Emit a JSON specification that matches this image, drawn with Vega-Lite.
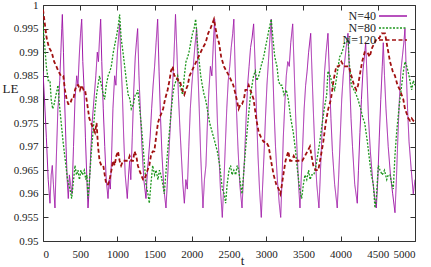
{
"$schema": "https://vega.github.io/schema/vega-lite/v6.json",
"width": 372, "height": 236,
"autosize": {"type": "none"},
"padding": {"left": 43, "top": 5, "right": 16, "bottom": 26},
"config": {"view": {"stroke": "#333", "strokeWidth": 1}, "font": "Liberation Serif",
 "axis": {"grid": false, "domain": false, "tickColor": "#333", "tickSize": -5, "labelFont": "Liberation Serif", "labelFontSize": 11, "labelColor": "#222", "titleFont": "Liberation Serif", "titleFontSize": 13, "titleFontWeight": "normal", "titleColor": "#222"},
 "legend": {"orient": "none", "legendX": 344, "legendY": 5, "title": null, "symbolType": "M-3.5,0H3.5", "symbolSize": 64, "symbolStrokeWidth": 1.5, "symbolFillColor": "transparent", "symbolOffset": 0, "labelFont": "Liberation Serif", "labelFontSize": 12, "labelColor": "#222", "labelAlign": "right", "labelOffset": -23, "labelBaseline": "middle", "rowPadding": 0, "padding": 0}},
"datasets": {
"m": [
{"s":"N=40","t":0,"v":0.986},{"s":"N=40","t":20,"v":0.980},{"s":"N=40","t":45,"v":0.972},{"s":"N=40","t":70,"v":0.963},{"s":"N=40","t":94,"v":0.958},{"s":"N=40","t":110,"v":0.964},{"s":"N=40","t":125,"v":0.966},{"s":"N=40","t":140,"v":0.962},{"s":"N=40","t":161,"v":0.957},{"s":"N=40","t":180,"v":0.968},{"s":"N=40","t":200,"v":0.978},{"s":"N=40","t":215,"v":0.981},{"s":"N=40","t":225,"v":0.984},{"s":"N=40","t":240,"v":0.990},{"s":"N=40","t":252,"v":0.995},{"s":"N=40","t":260,"v":0.998},{"s":"N=40","t":275,"v":0.990},{"s":"N=40","t":290,"v":0.980},{"s":"N=40","t":310,"v":0.970},{"s":"N=40","t":325,"v":0.963},{"s":"N=40","t":340,"v":0.959},{"s":"N=40","t":355,"v":0.964},{"s":"N=40","t":370,"v":0.962},{"s":"N=40","t":390,"v":0.960},{"s":"N=40","t":410,"v":0.970},{"s":"N=40","t":430,"v":0.980},{"s":"N=40","t":453,"v":0.985},{"s":"N=40","t":470,"v":0.983},{"s":"N=40","t":490,"v":0.990},{"s":"N=40","t":505,"v":0.994},{"s":"N=40","t":520,"v":0.997},{"s":"N=40","t":535,"v":0.988},{"s":"N=40","t":550,"v":0.983},{"s":"N=40","t":570,"v":0.972},{"s":"N=40","t":590,"v":0.963},{"s":"N=40","t":605,"v":0.957},{"s":"N=40","t":620,"v":0.961},{"s":"N=40","t":640,"v":0.968},{"s":"N=40","t":660,"v":0.975},{"s":"N=40","t":695,"v":0.982},{"s":"N=40","t":710,"v":0.985},{"s":"N=40","t":730,"v":0.990},{"s":"N=40","t":745,"v":0.988},{"s":"N=40","t":760,"v":0.993},{"s":"N=40","t":775,"v":0.997},{"s":"N=40","t":790,"v":0.988},{"s":"N=40","t":810,"v":0.978},{"s":"N=40","t":830,"v":0.970},{"s":"N=40","t":850,"v":0.963},{"s":"N=40","t":874,"v":0.959},{"s":"N=40","t":890,"v":0.963},{"s":"N=40","t":905,"v":0.961},{"s":"N=40","t":920,"v":0.967},{"s":"N=40","t":940,"v":0.978},{"s":"N=40","t":963,"v":0.985},{"s":"N=40","t":980,"v":0.983},{"s":"N=40","t":1000,"v":0.990},{"s":"N=40","t":1015,"v":0.993},{"s":"N=40","t":1030,"v":0.996},{"s":"N=40","t":1045,"v":0.989},{"s":"N=40","t":1065,"v":0.982},{"s":"N=40","t":1085,"v":0.972},{"s":"N=40","t":1105,"v":0.964},{"s":"N=40","t":1133,"v":0.959},{"s":"N=40","t":1150,"v":0.964},{"s":"N=40","t":1165,"v":0.967},{"s":"N=40","t":1180,"v":0.963},{"s":"N=40","t":1200,"v":0.972},{"s":"N=40","t":1220,"v":0.982},{"s":"N=40","t":1240,"v":0.989},{"s":"N=40","t":1255,"v":0.992},{"s":"N=40","t":1272,"v":0.995},{"s":"N=40","t":1290,"v":0.985},{"s":"N=40","t":1310,"v":0.977},{"s":"N=40","t":1330,"v":0.970},{"s":"N=40","t":1355,"v":0.963},{"s":"N=40","t":1384,"v":0.959},{"s":"N=40","t":1400,"v":0.964},{"s":"N=40","t":1420,"v":0.968},{"s":"N=40","t":1440,"v":0.972},{"s":"N=40","t":1460,"v":0.978},{"s":"N=40","t":1480,"v":0.983},{"s":"N=40","t":1500,"v":0.987},{"s":"N=40","t":1520,"v":0.992},{"s":"N=40","t":1541,"v":0.997},{"s":"N=40","t":1560,"v":0.986},{"s":"N=40","t":1580,"v":0.976},{"s":"N=40","t":1600,"v":0.968},{"s":"N=40","t":1625,"v":0.961},{"s":"N=40","t":1653,"v":0.957},{"s":"N=40","t":1670,"v":0.962},{"s":"N=40","t":1690,"v":0.968},{"s":"N=40","t":1710,"v":0.974},{"s":"N=40","t":1730,"v":0.980},{"s":"N=40","t":1745,"v":0.984},{"s":"N=40","t":1760,"v":0.989},{"s":"N=40","t":1781,"v":0.998},{"s":"N=40","t":1800,"v":0.990},{"s":"N=40","t":1820,"v":0.981},{"s":"N=40","t":1840,"v":0.974},{"s":"N=40","t":1860,"v":0.968},{"s":"N=40","t":1880,"v":0.962},{"s":"N=40","t":1900,"v":0.958},{"s":"N=40","t":1920,"v":0.963},{"s":"N=40","t":1940,"v":0.961},{"s":"N=40","t":1960,"v":0.970},{"s":"N=40","t":1980,"v":0.978},{"s":"N=40","t":2000,"v":0.983},{"s":"N=40","t":2020,"v":0.987},{"s":"N=40","t":2040,"v":0.991},{"s":"N=40","t":2065,"v":0.995},{"s":"N=40","t":2080,"v":0.987},{"s":"N=40","t":2100,"v":0.978},{"s":"N=40","t":2120,"v":0.968},{"s":"N=40","t":2150,"v":0.957},{"s":"N=40","t":2170,"v":0.963},{"s":"N=40","t":2190,"v":0.966},{"s":"N=40","t":2210,"v":0.975},{"s":"N=40","t":2230,"v":0.982},{"s":"N=40","t":2250,"v":0.987},{"s":"N=40","t":2270,"v":0.985},{"s":"N=40","t":2290,"v":0.992},{"s":"N=40","t":2307,"v":0.997},{"s":"N=40","t":2325,"v":0.985},{"s":"N=40","t":2345,"v":0.975},{"s":"N=40","t":2365,"v":0.968},{"s":"N=40","t":2385,"v":0.961},{"s":"N=40","t":2410,"v":0.955},{"s":"N=40","t":2430,"v":0.962},{"s":"N=40","t":2450,"v":0.970},{"s":"N=40","t":2470,"v":0.978},{"s":"N=40","t":2490,"v":0.984},{"s":"N=40","t":2510,"v":0.987},{"s":"N=40","t":2530,"v":0.991},{"s":"N=40","t":2550,"v":0.994},{"s":"N=40","t":2565,"v":0.997},{"s":"N=40","t":2580,"v":0.988},{"s":"N=40","t":2600,"v":0.978},{"s":"N=40","t":2620,"v":0.970},{"s":"N=40","t":2645,"v":0.962},{"s":"N=40","t":2675,"v":0.957},{"s":"N=40","t":2690,"v":0.962},{"s":"N=40","t":2710,"v":0.968},{"s":"N=40","t":2730,"v":0.976},{"s":"N=40","t":2750,"v":0.983},{"s":"N=40","t":2770,"v":0.987},{"s":"N=40","t":2790,"v":0.991},{"s":"N=40","t":2810,"v":0.993},{"s":"N=40","t":2831,"v":0.996},{"s":"N=40","t":2850,"v":0.988},{"s":"N=40","t":2870,"v":0.977},{"s":"N=40","t":2890,"v":0.968},{"s":"N=40","t":2910,"v":0.961},{"s":"N=40","t":2934,"v":0.955},{"s":"N=40","t":2950,"v":0.961},{"s":"N=40","t":2970,"v":0.968},{"s":"N=40","t":2990,"v":0.976},{"s":"N=40","t":3010,"v":0.983},{"s":"N=40","t":3030,"v":0.988},{"s":"N=40","t":3050,"v":0.993},{"s":"N=40","t":3068,"v":0.997},{"s":"N=40","t":3085,"v":0.988},{"s":"N=40","t":3105,"v":0.978},{"s":"N=40","t":3125,"v":0.970},{"s":"N=40","t":3150,"v":0.963},{"s":"N=40","t":3175,"v":0.958},{"s":"N=40","t":3195,"v":0.955},{"s":"N=40","t":3210,"v":0.962},{"s":"N=40","t":3230,"v":0.972},{"s":"N=40","t":3250,"v":0.979},{"s":"N=40","t":3270,"v":0.985},{"s":"N=40","t":3290,"v":0.988},{"s":"N=40","t":3310,"v":0.987},{"s":"N=40","t":3330,"v":0.992},{"s":"N=40","t":3356,"v":0.996},{"s":"N=40","t":3375,"v":0.987},{"s":"N=40","t":3395,"v":0.977},{"s":"N=40","t":3415,"v":0.969},{"s":"N=40","t":3435,"v":0.962},{"s":"N=40","t":3454,"v":0.957},{"s":"N=40","t":3470,"v":0.963},{"s":"N=40","t":3490,"v":0.970},{"s":"N=40","t":3510,"v":0.978},{"s":"N=40","t":3530,"v":0.983},{"s":"N=40","t":3550,"v":0.986},{"s":"N=40","t":3570,"v":0.990},{"s":"N=40","t":3598,"v":0.994},{"s":"N=40","t":3615,"v":0.986},{"s":"N=40","t":3635,"v":0.977},{"s":"N=40","t":3655,"v":0.969},{"s":"N=40","t":3680,"v":0.962},{"s":"N=40","t":3709,"v":0.957},{"s":"N=40","t":3725,"v":0.963},{"s":"N=40","t":3745,"v":0.971},{"s":"N=40","t":3765,"v":0.979},{"s":"N=40","t":3785,"v":0.986},{"s":"N=40","t":3805,"v":0.990},{"s":"N=40","t":3830,"v":0.994},{"s":"N=40","t":3850,"v":0.985},{"s":"N=40","t":3870,"v":0.976},{"s":"N=40","t":3890,"v":0.969},{"s":"N=40","t":3920,"v":0.962},{"s":"N=40","t":3955,"v":0.957},{"s":"N=40","t":3975,"v":0.964},{"s":"N=40","t":3995,"v":0.972},{"s":"N=40","t":4015,"v":0.980},{"s":"N=40","t":4035,"v":0.985},{"s":"N=40","t":4055,"v":0.988},{"s":"N=40","t":4075,"v":0.991},{"s":"N=40","t":4099,"v":0.994},{"s":"N=40","t":4120,"v":0.985},{"s":"N=40","t":4140,"v":0.976},{"s":"N=40","t":4160,"v":0.970},{"s":"N=40","t":4190,"v":0.962},{"s":"N=40","t":4224,"v":0.958},{"s":"N=40","t":4240,"v":0.965},{"s":"N=40","t":4260,"v":0.973},{"s":"N=40","t":4280,"v":0.980},{"s":"N=40","t":4300,"v":0.986},{"s":"N=40","t":4320,"v":0.989},{"s":"N=40","t":4337,"v":0.992},{"s":"N=40","t":4355,"v":0.985},{"s":"N=40","t":4375,"v":0.976},{"s":"N=40","t":4400,"v":0.969},{"s":"N=40","t":4430,"v":0.963},{"s":"N=40","t":4460,"v":0.959},{"s":"N=40","t":4480,"v":0.957},{"s":"N=40","t":4500,"v":0.963},{"s":"N=40","t":4520,"v":0.972},{"s":"N=40","t":4540,"v":0.980},{"s":"N=40","t":4560,"v":0.987},{"s":"N=40","t":4574,"v":0.992},{"s":"N=40","t":4590,"v":0.985},{"s":"N=40","t":4610,"v":0.978},{"s":"N=40","t":4640,"v":0.970},{"s":"N=40","t":4670,"v":0.964},{"s":"N=40","t":4700,"v":0.960},{"s":"N=40","t":4731,"v":0.956},{"s":"N=40","t":4750,"v":0.963},{"s":"N=40","t":4770,"v":0.972},{"s":"N=40","t":4790,"v":0.980},{"s":"N=40","t":4810,"v":0.986},{"s":"N=40","t":4830,"v":0.989},{"s":"N=40","t":4850,"v":0.992},{"s":"N=40","t":4865,"v":0.995},{"s":"N=40","t":4880,"v":0.987},{"s":"N=40","t":4900,"v":0.978},{"s":"N=40","t":4920,"v":0.971},{"s":"N=40","t":4950,"v":0.965},{"s":"N=40","t":4977,"v":0.960},{"s":"N=40","t":5000,"v":0.963}
],
"g": [
{"s":"N=80","t":0,"v":0.996},{"s":"N=80","t":20,"v":0.992},{"s":"N=80","t":45,"v":0.987},{"s":"N=80","t":70,"v":0.984},{"s":"N=80","t":94,"v":0.984},{"s":"N=80","t":110,"v":0.980},{"s":"N=80","t":130,"v":0.978},{"s":"N=80","t":150,"v":0.979},{"s":"N=80","t":175,"v":0.981},{"s":"N=80","t":202,"v":0.983},{"s":"N=80","t":220,"v":0.979},{"s":"N=80","t":245,"v":0.975},{"s":"N=80","t":270,"v":0.971},{"s":"N=80","t":300,"v":0.967},{"s":"N=80","t":330,"v":0.963},{"s":"N=80","t":363,"v":0.961},{"s":"N=80","t":385,"v":0.959},{"s":"N=80","t":405,"v":0.962},{"s":"N=80","t":430,"v":0.966},{"s":"N=80","t":450,"v":0.964},{"s":"N=80","t":470,"v":0.965},{"s":"N=80","t":490,"v":0.963},{"s":"N=80","t":510,"v":0.965},{"s":"N=80","t":530,"v":0.964},{"s":"N=80","t":555,"v":0.965},{"s":"N=80","t":575,"v":0.963},{"s":"N=80","t":590,"v":0.964},{"s":"N=80","t":605,"v":0.959},{"s":"N=80","t":625,"v":0.963},{"s":"N=80","t":650,"v":0.969},{"s":"N=80","t":672,"v":0.973},{"s":"N=80","t":700,"v":0.978},{"s":"N=80","t":720,"v":0.981},{"s":"N=80","t":739,"v":0.983},{"s":"N=80","t":760,"v":0.985},{"s":"N=80","t":785,"v":0.983},{"s":"N=80","t":810,"v":0.981},{"s":"N=80","t":829,"v":0.980},{"s":"N=80","t":850,"v":0.983},{"s":"N=80","t":875,"v":0.985},{"s":"N=80","t":900,"v":0.986},{"s":"N=80","t":918,"v":0.987},{"s":"N=80","t":945,"v":0.990},{"s":"N=80","t":970,"v":0.992},{"s":"N=80","t":995,"v":0.994},{"s":"N=80","t":1015,"v":0.996},{"s":"N=80","t":1030,"v":0.998},{"s":"N=80","t":1050,"v":0.993},{"s":"N=80","t":1075,"v":0.990},{"s":"N=80","t":1098,"v":0.987},{"s":"N=80","t":1120,"v":0.984},{"s":"N=80","t":1145,"v":0.981},{"s":"N=80","t":1170,"v":0.980},{"s":"N=80","t":1187,"v":0.978},{"s":"N=80","t":1215,"v":0.979},{"s":"N=80","t":1240,"v":0.981},{"s":"N=80","t":1254,"v":0.981},{"s":"N=80","t":1275,"v":0.982},{"s":"N=80","t":1300,"v":0.978},{"s":"N=80","t":1330,"v":0.973},{"s":"N=80","t":1360,"v":0.967},{"s":"N=80","t":1385,"v":0.962},{"s":"N=80","t":1410,"v":0.960},{"s":"N=80","t":1429,"v":0.958},{"s":"N=80","t":1450,"v":0.962},{"s":"N=80","t":1474,"v":0.966},{"s":"N=80","t":1500,"v":0.964},{"s":"N=80","t":1520,"v":0.965},{"s":"N=80","t":1545,"v":0.963},{"s":"N=80","t":1565,"v":0.965},{"s":"N=80","t":1586,"v":0.964},{"s":"N=80","t":1610,"v":0.962},{"s":"N=80","t":1630,"v":0.960},{"s":"N=80","t":1650,"v":0.964},{"s":"N=80","t":1675,"v":0.969},{"s":"N=80","t":1698,"v":0.973},{"s":"N=80","t":1720,"v":0.977},{"s":"N=80","t":1745,"v":0.981},{"s":"N=80","t":1765,"v":0.983},{"s":"N=80","t":1790,"v":0.984},{"s":"N=80","t":1810,"v":0.985},{"s":"N=80","t":1840,"v":0.983},{"s":"N=80","t":1877,"v":0.981},{"s":"N=80","t":1900,"v":0.985},{"s":"N=80","t":1922,"v":0.988},{"s":"N=80","t":1945,"v":0.989},{"s":"N=80","t":1962,"v":0.990},{"s":"N=80","t":1985,"v":0.992},{"s":"N=80","t":2010,"v":0.994},{"s":"N=80","t":2030,"v":0.995},{"s":"N=80","t":2052,"v":0.997},{"s":"N=80","t":2075,"v":0.992},{"s":"N=80","t":2100,"v":0.988},{"s":"N=80","t":2120,"v":0.985},{"s":"N=80","t":2141,"v":0.983},{"s":"N=80","t":2165,"v":0.981},{"s":"N=80","t":2185,"v":0.980},{"s":"N=80","t":2208,"v":0.978},{"s":"N=80","t":2240,"v":0.975},{"s":"N=80","t":2275,"v":0.973},{"s":"N=80","t":2310,"v":0.971},{"s":"N=80","t":2343,"v":0.969},{"s":"N=80","t":2375,"v":0.966},{"s":"N=80","t":2410,"v":0.961},{"s":"N=80","t":2435,"v":0.960},{"s":"N=80","t":2455,"v":0.958},{"s":"N=80","t":2475,"v":0.962},{"s":"N=80","t":2500,"v":0.965},{"s":"N=80","t":2522,"v":0.966},{"s":"N=80","t":2540,"v":0.964},{"s":"N=80","t":2565,"v":0.965},{"s":"N=80","t":2590,"v":0.964},{"s":"N=80","t":2610,"v":0.966},{"s":"N=80","t":2630,"v":0.965},{"s":"N=80","t":2655,"v":0.962},{"s":"N=80","t":2675,"v":0.960},{"s":"N=80","t":2700,"v":0.965},{"s":"N=80","t":2720,"v":0.969},{"s":"N=80","t":2742,"v":0.973},{"s":"N=80","t":2765,"v":0.977},{"s":"N=80","t":2790,"v":0.981},{"s":"N=80","t":2809,"v":0.983},{"s":"N=80","t":2830,"v":0.985},{"s":"N=80","t":2854,"v":0.986},{"s":"N=80","t":2875,"v":0.984},{"s":"N=80","t":2900,"v":0.985},{"s":"N=80","t":2930,"v":0.987},{"s":"N=80","t":2966,"v":0.989},{"s":"N=80","t":2990,"v":0.991},{"s":"N=80","t":3015,"v":0.993},{"s":"N=80","t":3040,"v":0.995},{"s":"N=80","t":3068,"v":0.997},{"s":"N=80","t":3090,"v":0.993},{"s":"N=80","t":3115,"v":0.989},{"s":"N=80","t":3145,"v":0.987},{"s":"N=80","t":3165,"v":0.984},{"s":"N=80","t":3185,"v":0.983},{"s":"N=80","t":3210,"v":0.983},{"s":"N=80","t":3240,"v":0.981},{"s":"N=80","t":3270,"v":0.982},{"s":"N=80","t":3297,"v":0.980},{"s":"N=80","t":3330,"v":0.976},{"s":"N=80","t":3364,"v":0.973},{"s":"N=80","t":3395,"v":0.969},{"s":"N=80","t":3420,"v":0.965},{"s":"N=80","t":3450,"v":0.961},{"s":"N=80","t":3477,"v":0.959},{"s":"N=80","t":3500,"v":0.962},{"s":"N=80","t":3521,"v":0.964},{"s":"N=80","t":3545,"v":0.963},{"s":"N=80","t":3570,"v":0.965},{"s":"N=80","t":3590,"v":0.963},{"s":"N=80","t":3611,"v":0.964},{"s":"N=80","t":3640,"v":0.964},{"s":"N=80","t":3670,"v":0.966},{"s":"N=80","t":3700,"v":0.969},{"s":"N=80","t":3720,"v":0.971},{"s":"N=80","t":3745,"v":0.974},{"s":"N=80","t":3780,"v":0.978},{"s":"N=80","t":3813,"v":0.981},{"s":"N=80","t":3830,"v":0.986},{"s":"N=80","t":3860,"v":0.985},{"s":"N=80","t":3890,"v":0.983},{"s":"N=80","t":3920,"v":0.982},{"s":"N=80","t":3950,"v":0.985},{"s":"N=80","t":3987,"v":0.989},{"s":"N=80","t":4020,"v":0.990},{"s":"N=80","t":4055,"v":0.992},{"s":"N=80","t":4080,"v":0.992},{"s":"N=80","t":4100,"v":0.993},{"s":"N=80","t":4115,"v":0.988},{"s":"N=80","t":4144,"v":0.983},{"s":"N=80","t":4180,"v":0.982},{"s":"N=80","t":4210,"v":0.981},{"s":"N=80","t":4234,"v":0.980},{"s":"N=80","t":4270,"v":0.978},{"s":"N=80","t":4300,"v":0.976},{"s":"N=80","t":4324,"v":0.975},{"s":"N=80","t":4360,"v":0.971},{"s":"N=80","t":4390,"v":0.967},{"s":"N=80","t":4413,"v":0.964},{"s":"N=80","t":4440,"v":0.962},{"s":"N=80","t":4462,"v":0.957},{"s":"N=80","t":4480,"v":0.959},{"s":"N=80","t":4507,"v":0.966},{"s":"N=80","t":4530,"v":0.965},{"s":"N=80","t":4560,"v":0.964},{"s":"N=80","t":4590,"v":0.965},{"s":"N=80","t":4620,"v":0.963},{"s":"N=80","t":4640,"v":0.964},{"s":"N=80","t":4664,"v":0.964},{"s":"N=80","t":4690,"v":0.962},{"s":"N=80","t":4708,"v":0.961},{"s":"N=80","t":4730,"v":0.968},{"s":"N=80","t":4753,"v":0.973},{"s":"N=80","t":4790,"v":0.979},{"s":"N=80","t":4821,"v":0.983},{"s":"N=80","t":4845,"v":0.986},{"s":"N=80","t":4865,"v":0.988},{"s":"N=80","t":4890,"v":0.987},{"s":"N=80","t":4920,"v":0.985},{"s":"N=80","t":4955,"v":0.982},{"s":"N=80","t":4977,"v":0.984},{"s":"N=80","t":5000,"v":0.983}
],
"r": [
{"s":"N=120","t":0,"v":0.999},{"s":"N=120","t":25,"v":0.996},{"s":"N=120","t":49,"v":0.993},{"s":"N=120","t":80,"v":0.991},{"s":"N=120","t":117,"v":0.990},{"s":"N=120","t":150,"v":0.988},{"s":"N=120","t":180,"v":0.987},{"s":"N=120","t":206,"v":0.986},{"s":"N=120","t":240,"v":0.985},{"s":"N=120","t":273,"v":0.985},{"s":"N=120","t":295,"v":0.982},{"s":"N=120","t":318,"v":0.980},{"s":"N=120","t":340,"v":0.979},{"s":"N=120","t":363,"v":0.979},{"s":"N=120","t":385,"v":0.980},{"s":"N=120","t":408,"v":0.980},{"s":"N=120","t":430,"v":0.982},{"s":"N=120","t":453,"v":0.983},{"s":"N=120","t":475,"v":0.983},{"s":"N=120","t":497,"v":0.982},{"s":"N=120","t":520,"v":0.983},{"s":"N=120","t":545,"v":0.982},{"s":"N=120","t":565,"v":0.982},{"s":"N=120","t":595,"v":0.979},{"s":"N=120","t":622,"v":0.976},{"s":"N=120","t":645,"v":0.975},{"s":"N=120","t":672,"v":0.974},{"s":"N=120","t":699,"v":0.973},{"s":"N=120","t":720,"v":0.975},{"s":"N=120","t":740,"v":0.970},{"s":"N=120","t":760,"v":0.967},{"s":"N=120","t":784,"v":0.966},{"s":"N=120","t":810,"v":0.966},{"s":"N=120","t":830,"v":0.964},{"s":"N=120","t":850,"v":0.962},{"s":"N=120","t":874,"v":0.962},{"s":"N=120","t":895,"v":0.963},{"s":"N=120","t":920,"v":0.965},{"s":"N=120","t":940,"v":0.967},{"s":"N=120","t":963,"v":0.966},{"s":"N=120","t":985,"v":0.968},{"s":"N=120","t":1008,"v":0.969},{"s":"N=120","t":1030,"v":0.967},{"s":"N=120","t":1050,"v":0.966},{"s":"N=120","t":1075,"v":0.967},{"s":"N=120","t":1098,"v":0.967},{"s":"N=120","t":1120,"v":0.967},{"s":"N=120","t":1145,"v":0.967},{"s":"N=120","t":1165,"v":0.968},{"s":"N=120","t":1187,"v":0.967},{"s":"N=120","t":1210,"v":0.967},{"s":"N=120","t":1230,"v":0.969},{"s":"N=120","t":1254,"v":0.968},{"s":"N=120","t":1275,"v":0.966},{"s":"N=120","t":1295,"v":0.965},{"s":"N=120","t":1320,"v":0.964},{"s":"N=120","t":1345,"v":0.963},{"s":"N=120","t":1362,"v":0.963},{"s":"N=120","t":1385,"v":0.964},{"s":"N=120","t":1405,"v":0.965},{"s":"N=120","t":1429,"v":0.966},{"s":"N=120","t":1450,"v":0.968},{"s":"N=120","t":1475,"v":0.969},{"s":"N=120","t":1496,"v":0.969},{"s":"N=120","t":1520,"v":0.972},{"s":"N=120","t":1545,"v":0.975},{"s":"N=120","t":1563,"v":0.976},{"s":"N=120","t":1590,"v":0.977},{"s":"N=120","t":1615,"v":0.978},{"s":"N=120","t":1640,"v":0.980},{"s":"N=120","t":1675,"v":0.982},{"s":"N=120","t":1700,"v":0.984},{"s":"N=120","t":1720,"v":0.986},{"s":"N=120","t":1743,"v":0.987},{"s":"N=120","t":1765,"v":0.985},{"s":"N=120","t":1788,"v":0.985},{"s":"N=120","t":1815,"v":0.984},{"s":"N=120","t":1840,"v":0.984},{"s":"N=120","t":1870,"v":0.982},{"s":"N=120","t":1899,"v":0.981},{"s":"N=120","t":1920,"v":0.982},{"s":"N=120","t":1945,"v":0.983},{"s":"N=120","t":1970,"v":0.985},{"s":"N=120","t":2000,"v":0.986},{"s":"N=120","t":2029,"v":0.987},{"s":"N=120","t":2060,"v":0.988},{"s":"N=120","t":2090,"v":0.989},{"s":"N=120","t":2120,"v":0.990},{"s":"N=120","t":2150,"v":0.991},{"s":"N=120","t":2186,"v":0.992},{"s":"N=120","t":2220,"v":0.994},{"s":"N=120","t":2250,"v":0.995},{"s":"N=120","t":2275,"v":0.996},{"s":"N=120","t":2298,"v":0.997},{"s":"N=120","t":2320,"v":0.995},{"s":"N=120","t":2345,"v":0.993},{"s":"N=120","t":2365,"v":0.992},{"s":"N=120","t":2395,"v":0.989},{"s":"N=120","t":2432,"v":0.987},{"s":"N=120","t":2465,"v":0.986},{"s":"N=120","t":2500,"v":0.985},{"s":"N=120","t":2530,"v":0.984},{"s":"N=120","t":2558,"v":0.983},{"s":"N=120","t":2590,"v":0.981},{"s":"N=120","t":2630,"v":0.978},{"s":"N=120","t":2655,"v":0.979},{"s":"N=120","t":2675,"v":0.979},{"s":"N=120","t":2700,"v":0.980},{"s":"N=120","t":2720,"v":0.982},{"s":"N=120","t":2742,"v":0.982},{"s":"N=120","t":2765,"v":0.983},{"s":"N=120","t":2786,"v":0.982},{"s":"N=120","t":2810,"v":0.981},{"s":"N=120","t":2831,"v":0.980},{"s":"N=120","t":2865,"v":0.976},{"s":"N=120","t":2899,"v":0.973},{"s":"N=120","t":2930,"v":0.972},{"s":"N=120","t":2966,"v":0.971},{"s":"N=120","t":3000,"v":0.971},{"s":"N=120","t":3033,"v":0.970},{"s":"N=120","t":3065,"v":0.967},{"s":"N=120","t":3100,"v":0.964},{"s":"N=120","t":3135,"v":0.962},{"s":"N=120","t":3168,"v":0.961},{"s":"N=120","t":3190,"v":0.960},{"s":"N=120","t":3212,"v":0.962},{"s":"N=120","t":3230,"v":0.964},{"s":"N=120","t":3260,"v":0.967},{"s":"N=120","t":3297,"v":0.969},{"s":"N=120","t":3320,"v":0.967},{"s":"N=120","t":3342,"v":0.967},{"s":"N=120","t":3370,"v":0.968},{"s":"N=120","t":3400,"v":0.967},{"s":"N=120","t":3430,"v":0.967},{"s":"N=120","t":3454,"v":0.967},{"s":"N=120","t":3485,"v":0.967},{"s":"N=120","t":3520,"v":0.968},{"s":"N=120","t":3555,"v":0.969},{"s":"N=120","t":3588,"v":0.970},{"s":"N=120","t":3610,"v":0.968},{"s":"N=120","t":3633,"v":0.966},{"s":"N=120","t":3665,"v":0.965},{"s":"N=120","t":3700,"v":0.965},{"s":"N=120","t":3735,"v":0.968},{"s":"N=120","t":3767,"v":0.971},{"s":"N=120","t":3800,"v":0.975},{"s":"N=120","t":3834,"v":0.978},{"s":"N=120","t":3870,"v":0.980},{"s":"N=120","t":3905,"v":0.984},{"s":"N=120","t":3942,"v":0.987},{"s":"N=120","t":3975,"v":0.987},{"s":"N=120","t":4010,"v":0.988},{"s":"N=120","t":4045,"v":0.987},{"s":"N=120","t":4077,"v":0.987},{"s":"N=120","t":4110,"v":0.987},{"s":"N=120","t":4145,"v":0.985},{"s":"N=120","t":4180,"v":0.983},{"s":"N=120","t":4211,"v":0.982},{"s":"N=120","t":4235,"v":0.983},{"s":"N=120","t":4256,"v":0.985},{"s":"N=120","t":4290,"v":0.988},{"s":"N=120","t":4324,"v":0.990},{"s":"N=120","t":4360,"v":0.990},{"s":"N=120","t":4390,"v":0.989},{"s":"N=120","t":4425,"v":0.991},{"s":"N=120","t":4458,"v":0.992},{"s":"N=120","t":4490,"v":0.993},{"s":"N=120","t":4520,"v":0.993},{"s":"N=120","t":4552,"v":0.994},{"s":"N=120","t":4597,"v":0.994},{"s":"N=120","t":4630,"v":0.991},{"s":"N=120","t":4664,"v":0.988},{"s":"N=120","t":4700,"v":0.986},{"s":"N=120","t":4731,"v":0.985},{"s":"N=120","t":4765,"v":0.983},{"s":"N=120","t":4798,"v":0.982},{"s":"N=120","t":4820,"v":0.981},{"s":"N=120","t":4843,"v":0.980},{"s":"N=120","t":4865,"v":0.978},{"s":"N=120","t":4888,"v":0.977},{"s":"N=120","t":4910,"v":0.976},{"s":"N=120","t":4933,"v":0.9755},{"s":"N=120","t":4955,"v":0.976},{"s":"N=120","t":4977,"v":0.9755},{"s":"N=120","t":5000,"v":0.976}
]
},
"encoding": {
 "color": {"field": "s", "type": "nominal",
   "scale": {"domain": ["N=40", "N=80", "N=120"], "range": ["#a018a8", "#1c961c", "#a01010"]}},
 "strokeDash": {"field": "s", "type": "nominal",
   "scale": {"domain": ["N=40", "N=80", "N=120"], "range": [[1, 0], [2, 1.5], [4, 2.5]]}}
},
"layer": [
{
"data": {"name": "m"},
"mark": {"type": "line", "strokeWidth": 1, "clip": true},
"encoding": {
"x": {"field": "t", "type": "quantitative", "scale": {"domain": [0, 5000], "nice": false},
  "axis": {"orient": "bottom", "values": [0,500,1000,1500,2000,2500,3000,3500,4000,4500,5000], "format": "d", "labelPadding": 12, "title": "t", "titleX": 199, "titleY": 23, "titleBaseline": "alphabetic", "titleAlign": "center"}},
"y": {"field": "v", "type": "quantitative", "scale": {"domain": [0.95, 1], "nice": false, "zero": false},
  "axis": {"orient": "left", "values": [0.95,0.955,0.96,0.965,0.97,0.975,0.98,0.985,0.99,0.995,1], "format": "~g", "labelPadding": 10, "title": "LE", "titleAngle": 0, "titlePadding": 0, "titleX": -33, "titleY": 83, "titleAlign": "center", "titleBaseline": "middle"}}
}
},
{
"data": {"name": "g"},
"mark": {"type": "line", "strokeWidth": 1.3, "clip": true},
"encoding": {
"x": {"field": "t", "type": "quantitative", "axis": {"orient": "top", "values": [0,500,1000,1500,2000,2500,3000,3500,4000,4500,5000], "labels": false, "title": null}},
"y": {"field": "v", "type": "quantitative", "axis": {"orient": "right", "values": [0.95,0.955,0.96,0.965,0.97,0.975,0.98,0.985,0.99,0.995,1], "labels": false, "title": null}}
}
},
{
"data": {"name": "r"},
"mark": {"type": "line", "strokeWidth": 1.8, "clip": true},
"encoding": {
"x": {"field": "t", "type": "quantitative", "axis": null},
"y": {"field": "v", "type": "quantitative", "axis": null}
}
}
],
"resolve": {"axis": {"x": "independent", "y": "independent"}}
}
